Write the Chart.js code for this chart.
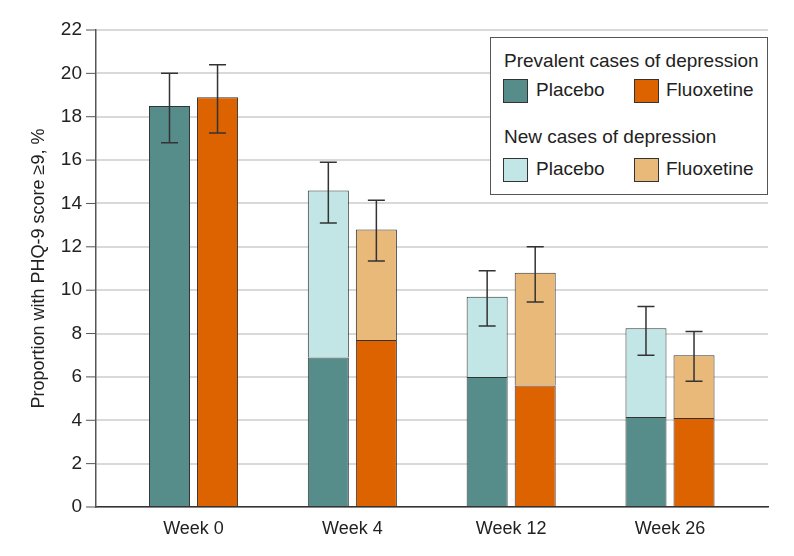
<!DOCTYPE html>
<html>
<head>
<meta charset="utf-8">
<script src="https://cdn.jsdelivr.net/npm/chart.js@4"></script>
<style>
  body { margin: 0; background: #fff; }
  #wrap { position: relative; width: 794px; height: 556px; }
  #legend {
    position: absolute; left: 490px; top: 37px; width: 278px; height: 158px;
    box-sizing: border-box; border: 1px solid #555; background: #fff;
    font-family: 'Liberation Sans', sans-serif; font-size: 19px; color: #222;
  }
  #legend .t { position: absolute; left: 13px; }
  #legend .sw { position: absolute; width: 25px; height: 24px; box-sizing: border-box; border: 1px solid #333; }
  #legend .lb { position: absolute; }
</style>
</head>
<body>
<div id="wrap">
  <canvas id="chart" width="794" height="556"></canvas>
  <div id="legend">
    <div class="t" style="top:12px">Prevalent cases of depression</div>
    <div class="sw" style="left:12px;top:41px;background:#568C8A"></div>
    <div class="lb" style="left:45px;top:41px">Placebo</div>
    <div class="sw" style="left:143px;top:41px;background:#DD6200"></div>
    <div class="lb" style="left:175px;top:41px">Fluoxetine</div>
    <div class="t" style="top:88px">New cases of depression</div>
    <div class="sw" style="left:12px;top:120px;background:#C2E6E6"></div>
    <div class="lb" style="left:45px;top:120px">Placebo</div>
    <div class="sw" style="left:143px;top:120px;background:#E8B978"></div>
    <div class="lb" style="left:175px;top:120px">Fluoxetine</div>
  </div>
</div>
<script>
const weeks = ['Week 0', 'Week 4', 'Week 12', 'Week 26'];
const placeboPrevalent = [18.5, 6.9, 6.0, 4.15];
const placeboNew = [0, 7.7, 3.7, 4.1];
const fluoxPrevalent = [18.9, 7.7, 5.6, 4.1];
const fluoxNew = [0, 5.1, 5.2, 2.9];
const placeboLower = [16.8, 13.1, 8.35, 7.0];
const placeboUpper = [20.0, 15.9, 10.9, 9.25];
const fluoxLower = [17.25, 11.35, 9.45, 5.8];
const fluoxUpper = [20.4, 14.15, 12.0, 8.1];
const yTicks = [0, 2, 4, 6, 8, 10, 12, 14, 16, 18, 20, 22];

const FONT = "'Liberation Sans', sans-serif";
const toPoints = arr => arr.map((v, i) => ({ x: i, y: v }));

const errorBars = {
    id: 'errorBars',
    afterDatasetsDraw(chart) {
        const ctx = chart.ctx;
        const y = chart.scales.y;
        const sets = [[1, placeboLower, placeboUpper], [3, fluoxLower, fluoxUpper]];
        ctx.save();
        ctx.strokeStyle = '#333';
        ctx.lineWidth = 1.5;
        sets.forEach(([di, lo, hi]) => {
            chart.getDatasetMeta(di).data.forEach((bar, i) => {
                const x = bar.x;
                const y1 = y.getPixelForValue(lo[i]);
                const y2 = y.getPixelForValue(hi[i]);
                ctx.beginPath();
                ctx.moveTo(x, y1); ctx.lineTo(x, y2);
                ctx.moveTo(x - 8.5, y1); ctx.lineTo(x + 8.5, y1);
                ctx.moveTo(x - 8.5, y2); ctx.lineTo(x + 8.5, y2);
                ctx.stroke();
            });
        });
        ctx.restore();
    }
};

const barStyle = { borderColor: '#333', borderWidth: 1, categoryPercentage: 0.605, barPercentage: 0.854 };

new Chart(document.getElementById('chart').getContext('2d'), {
    type: 'bar',
    data: {
        datasets: [
            { label: 'Placebo prevalent', data: toPoints(placeboPrevalent), stack: 'placebo', backgroundColor: '#568C8A', ...barStyle },
            { label: 'Placebo new', data: toPoints(placeboNew), stack: 'placebo', backgroundColor: '#C2E6E6', ...barStyle },
            { label: 'Fluoxetine prevalent', data: toPoints(fluoxPrevalent), stack: 'fluox', backgroundColor: '#DD6200', ...barStyle },
            { label: 'Fluoxetine new', data: toPoints(fluoxNew), stack: 'fluox', backgroundColor: '#E8B978', ...barStyle }
        ]
    },
    options: {
        responsive: false,
        animation: false,
        layout: { padding: { top: 30, right: 26, left: 28, bottom: 0 } },
        plugins: { legend: { display: false }, tooltip: { enabled: false } },
        scales: {
            x: {
                type: 'linear',
                offset: false,
                min: -0.614,
                max: 3.617,
                stacked: true,
                afterBuildTicks: scale => { scale.ticks = weeks.map((w, i) => ({ value: i })); },
                afterFit: scale => { scale.height = 49; },
                grid: { display: false, drawTicks: false },
                border: { color: '#333', width: 1.5 },
                ticks: {
                    padding: 11,
                    color: '#222',
                    font: { family: FONT, size: 18 },
                    callback: v => weeks[v]
                }
            },
            y: {
                stacked: true,
                min: 0,
                max: 22,
                afterBuildTicks: scale => { scale.ticks = yTicks.map(v => ({ value: v })); },
                afterFit: scale => { scale.width = 68; },
                grid: { color: '#d9d9d9', lineWidth: 2, drawTicks: false },
                border: { color: '#555', width: 1.5 },
                ticks: {
                    padding: 14,
                    color: '#222',
                    font: { family: FONT, size: 19 }
                },
                title: {
                    display: true,
                    text: 'Proportion with PHQ-9 score ≥9, %',
                    color: '#222',
                    font: { family: FONT, size: 18 },
                    padding: { top: 0, bottom: 0 }
                }
            }
        }
    },
    plugins: [errorBars, {
        id: 'yTickMarks',
        afterDraw(chart) {
            const ctx = chart.ctx, y = chart.scales.y, left = chart.chartArea.left;
            ctx.save();
            ctx.strokeStyle = '#555';
            ctx.lineWidth = 1;
            yTicks.forEach(v => {
                const py = y.getPixelForValue(v);
                ctx.beginPath(); ctx.moveTo(left - 10, py); ctx.lineTo(left, py); ctx.stroke();
            });
            ctx.restore();
        }
    }]
});
</script>
</body>
</html>
